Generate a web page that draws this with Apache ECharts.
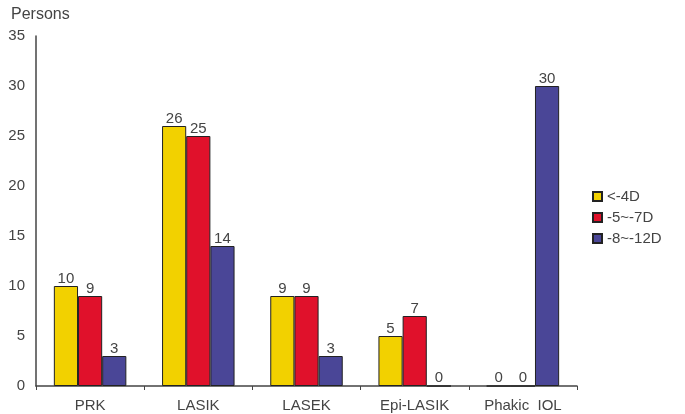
<!DOCTYPE html>
<html>
<head>
<meta charset="utf-8">
<script src="https://cdn.jsdelivr.net/npm/echarts@6/dist/echarts.min.js"></script>
<style>
html, body { margin: 0; padding: 0; background: #fff; }
#chart { width: 685px; height: 414px; }
</style>
</head>
<body>
<div id="chart"></div>
<script>
var categories = ['PRK', 'LASIK', 'LASEK', 'Epi-LASIK', 'Phakic  IOL'];
var seriesNames = ['<-4D', '-5~-7D', '-8~-12D'];
var lowValues = [10, 26, 9, 5, 0];
var midValues = [9, 25, 9, 7, 0];
var highValues = [3, 14, 3, 0, 30];
var yTicks = [0, 5, 10, 15, 20, 25, 30, 35];

var colors = ['#f2d100', '#e0112b', '#4a4697'];
var font = 'Liberation Sans, Arial, sans-serif';

function makeSeries(name, values, idx) {
    return {
        name: name,
        type: 'bar',
        data: values,
        barGap: '0%',
        barCategoryGap: '33%',
        itemStyle: { color: colors[idx], borderColor: '#222', borderWidth: 1 },
        label: {
            show: true,
            position: 'top',
            distance: 0,
            color: '#444',
            fontFamily: font,
            fontSize: 15
        }
    };
}

var chart = echarts.init(document.getElementById('chart'));

var option = {
    animation: false,
    color: colors,
    grid: { left: 36, right: 108, top: 36, bottom: 28, containLabel: false },
    title: {
        text: 'Persons',
        left: 6,
        top: 2,
        textStyle: { fontFamily: font, fontSize: 16, fontWeight: 'normal', color: '#444' }
    },
    legend: {
        orient: 'vertical',
        left: 587,
        top: 184,
        itemWidth: 9,
        itemHeight: 9,
        itemGap: 6,
        icon: 'rect',
        textStyle: { fontFamily: font, fontSize: 15, color: '#444' },
        data: seriesNames
    },
    xAxis: {
        type: 'category',
        data: categories,
        axisLine: { lineStyle: { color: '#444', width: 1.5 } },
        axisTick: { show: true, length: 4, lineStyle: { color: '#444' } },
        axisLabel: { fontFamily: font, fontSize: 15, color: '#444', margin: 12 }
    },
    yAxis: {
        type: 'value',
        min: yTicks[0],
        max: yTicks[yTicks.length - 1],
        interval: 5,
        axisLine: { show: true, lineStyle: { color: '#444', width: 1.5 } },
        axisTick: { show: false },
        splitLine: { show: false },
        axisLabel: { fontFamily: font, fontSize: 15, color: '#444', margin: 11 }
    },
    series: [
        makeSeries(seriesNames[0], lowValues, 0),
        makeSeries(seriesNames[1], midValues, 1),
        makeSeries(seriesNames[2], highValues, 2)
    ]
};

chart.setOption(option);
</script>
</body>
</html>
